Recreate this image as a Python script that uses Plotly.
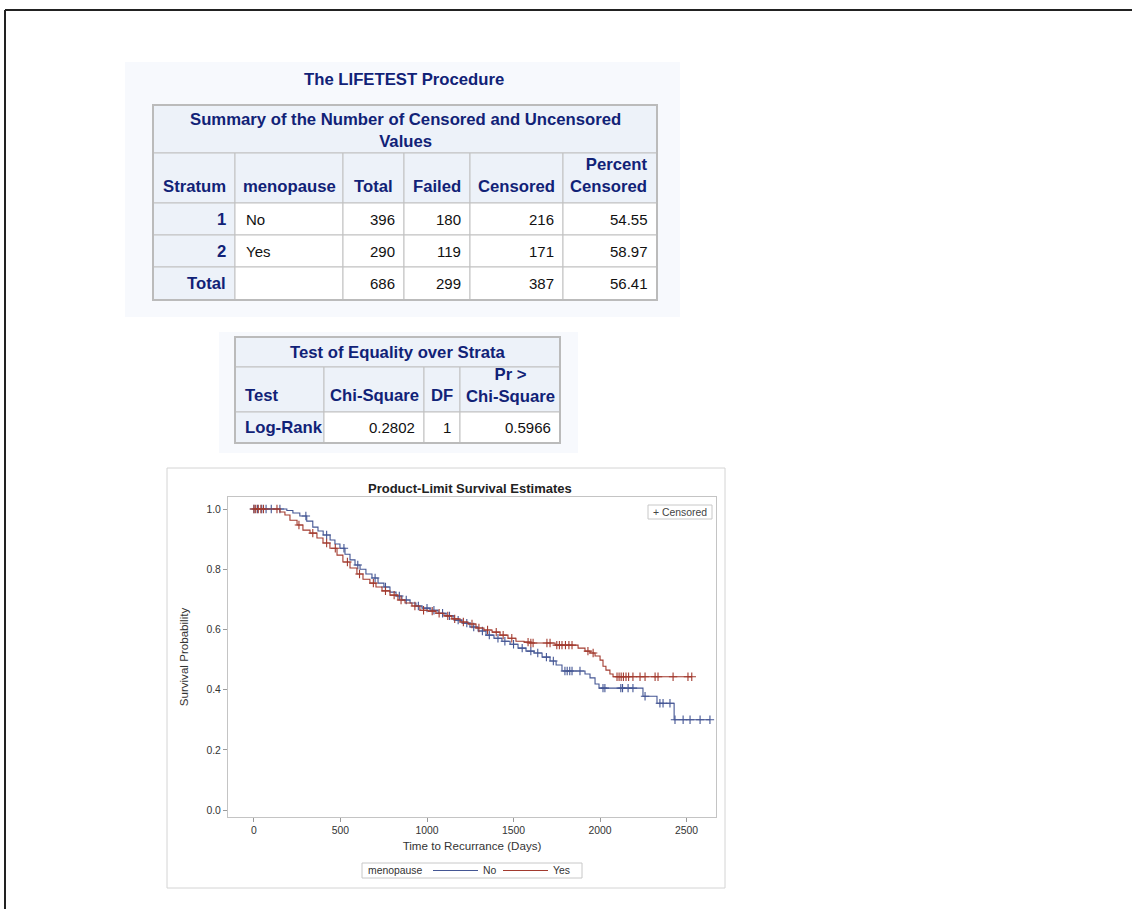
import plotly.graph_objects as go

W, H = 1132, 909
FONT = "Liberation Sans, Arial, Helvetica, sans-serif"

# ---------------- Summary of censored / uncensored values ----------------
summary_title = "Summary of the Number of Censored and Uncensored<br>Values"
summary_headers = ["Stratum", "menopause", "Total", "Failed", "Censored", "Percent<br>Censored"]
strata = ["1", "2", "Total"]
menopause = ["No", "Yes", ""]
n_total = [396, 290, 686]
n_failed = [180, 119, 299]
n_censored = [216, 171, 387]
pct_censored = [54.55, 58.97, 56.41]

# ---------------- Log-rank test ----------------
test_title = "Test of Equality over Strata"
test_headers = ["Test", "Chi-Square", "DF", "Pr ><br>Chi-Square"]
test_names = ["Log-Rank"]
chi_square = [0.2802]
deg_freedom = [1]
p_value = [0.5966]

# ---------------- Product-limit estimates (step knots) ----------------
groups = ["No", "Yes"]
no_time = [0, 190, 225, 265, 305, 340, 370, 400, 440, 468, 497, 526, 555, 584, 613, 647, 682,
           717, 751, 786, 821, 855, 902, 936, 971, 1017, 1064, 1110, 1156, 1202, 1248, 1295,
           1341, 1387, 1433, 1480, 1526, 1572, 1618, 1665, 1711, 1746, 1780, 1913, 1942, 1971,
           1994, 2248, 2329, 2428, 2635]
no_surv = [1.0, 0.995, 0.987, 0.977, 0.960, 0.940, 0.927, 0.914, 0.897, 0.884, 0.870, 0.850,
           0.831, 0.814, 0.800, 0.784, 0.771, 0.754, 0.741, 0.724, 0.711, 0.698, 0.688, 0.678,
           0.671, 0.664, 0.654, 0.645, 0.631, 0.621, 0.608, 0.595, 0.581, 0.571, 0.561, 0.551,
           0.538, 0.528, 0.522, 0.508, 0.495, 0.482, 0.462, 0.452, 0.439, 0.419, 0.405, 0.378,
           0.355, 0.300, 0.300]

yes_time = [0, 150, 179, 208, 249, 283, 324, 364, 399, 439, 480, 514, 555, 595, 630, 670, 705,
            740, 786, 832, 873, 913, 959, 1006, 1052, 1098, 1144, 1191, 1237, 1283, 1329, 1376,
            1422, 1468, 1514, 1561, 1595, 1740, 1873, 1913, 1942, 1971, 2000, 2017, 2034, 2057,
            2075, 2530]
yes_surv = [1.0, 0.990, 0.980, 0.963, 0.947, 0.930, 0.920, 0.904, 0.887, 0.870, 0.847, 0.824,
            0.804, 0.784, 0.767, 0.754, 0.741, 0.728, 0.714, 0.698, 0.688, 0.678, 0.664, 0.661,
            0.654, 0.645, 0.635, 0.625, 0.618, 0.605, 0.598, 0.591, 0.581, 0.571, 0.561, 0.558,
            0.555, 0.548, 0.538, 0.528, 0.522, 0.512, 0.498, 0.478, 0.465, 0.452, 0.443, 0.443]

# censored observations (time, estimate at that time)
no_cens_time = [0, 20, 45, 70, 100, 150, 300, 420, 520, 600, 700, 760, 840, 880, 950, 1000,
                1040, 1090, 1130, 1180, 1230, 1270, 1320, 1360, 1410, 1450, 1500, 1550, 1600,
                1640, 1690, 1730, 1797, 1810, 1825, 1838, 1884, 2017, 2028, 2120, 2130, 2162,
                2190, 2260, 2346, 2364, 2404, 2433, 2480, 2520, 2578, 2635]
no_cens_surv = [1.0, 1.0, 1.0, 1.0, 1.0, 1.0, 0.977, 0.914, 0.870, 0.814, 0.771, 0.741, 0.711,
                0.698, 0.678, 0.671, 0.664, 0.654, 0.645, 0.631, 0.621, 0.608, 0.595, 0.581,
                0.571, 0.561, 0.551, 0.538, 0.528, 0.522, 0.508, 0.495, 0.462, 0.462, 0.462,
                0.462, 0.462, 0.405, 0.405, 0.405, 0.405, 0.405, 0.405, 0.378, 0.355, 0.355,
                0.355, 0.300, 0.300, 0.300, 0.300, 0.300]

yes_cens_time = [0, 10, 25, 40, 55, 133, 260, 340, 420, 470, 540, 610, 690, 760, 810, 850, 930,
                 980, 1030, 1070, 1120, 1160, 1210, 1260, 1300, 1350, 1400, 1440, 1490, 1584,
                 1600, 1613, 1693, 1711, 1750, 1765, 1780, 1800, 1820, 1838, 1930, 1960, 2098,
                 2110, 2122, 2135, 2150, 2165, 2190, 2231, 2260, 2318, 2335, 2422, 2508, 2530]
yes_cens_surv = [1.0, 1.0, 1.0, 1.0, 1.0, 1.0, 0.947, 0.920, 0.887, 0.870, 0.824, 0.784, 0.754,
                 0.728, 0.714, 0.698, 0.678, 0.664, 0.661, 0.654, 0.645, 0.635, 0.625, 0.618,
                 0.605, 0.598, 0.591, 0.581, 0.571, 0.558, 0.555, 0.555, 0.555, 0.555, 0.548,
                 0.548, 0.548, 0.548, 0.548, 0.548, 0.528, 0.522, 0.443, 0.443, 0.443, 0.443,
                 0.443, 0.443, 0.443, 0.443, 0.443, 0.443, 0.443, 0.443, 0.443, 0.443]

x_ticks = [0, 500, 1000, 1500, 2000, 2500]
y_ticks = [0.0, 0.2, 0.4, 0.6, 0.8, 1.0]

# ---------------- styling ----------------
NAVY = "#112277"
HEAD_FILL = "#EDF2F9"
GRID = "#C1C1C1"
PANEL = "#F7F9FD"
BLUE = "#445694"
RED = "#A23A2E"
HEAD_SIZE = 16.7
DATA_SIZE = 15
GRAPH_TXT = "#333333"


def fx(px):
    return px / W


def fy(py):
    return 1 - py / H


shapes, annotations = [], []


def rect(x0, y0, x1, y1, fill=None, line_color=None, lw=1, layer="above"):
    shapes.append(dict(type="rect", xref="paper", yref="paper",
                       x0=fx(x0), x1=fx(x1), y0=fy(y1), y1=fy(y0),
                       fillcolor=fill or "rgba(0,0,0,0)",
                       line=dict(color=line_color or "rgba(0,0,0,0)", width=lw if line_color else 0),
                       layer=layer))


def seg(x0, y0, x1, y1, color, lw):
    shapes.append(dict(type="line", xref="paper", yref="paper",
                       x0=fx(x0), x1=fx(x1), y0=fy(y0), y1=fy(y1),
                       line=dict(color=color, width=lw)))


def text(s, x, y, size, color, bold=False, anchor="center"):
    annotations.append(dict(text=f"<b>{s}</b>" if bold else s, x=fx(x), y=fy(y),
                            xref="paper", yref="paper", xanchor=anchor, yanchor="middle",
                            align=anchor if anchor != "center" else "center",
                            showarrow=False, font=dict(family=FONT, size=size, color=color)))


def mid(a, b):
    return (a + b) / 2


def header_y(label, bottom):
    # column headings sit on the bottom edge of their cell
    n_lines = label.count("<br>") + 1
    return bottom - 17 - 10.5 * (n_lines - 1)


# page frame
seg(5, 10, 1140, 10, "#222222", 2)
seg(5, 10, 5, 920, "#222222", 2)

# ---------------- table 1 ----------------
cols1 = [153, 235, 343, 404, 470, 563, 657]
rows1 = [105, 153, 203, 235, 267, 300]
rect(125, 62, 680, 317, PANEL, layer="below")
text("The LIFETEST Procedure", 404, 80, HEAD_SIZE, NAVY, bold=True)

rect(cols1[0], rows1[0], cols1[-1], rows1[1], HEAD_FILL, GRID)
text(summary_title, mid(cols1[0], cols1[-1]), mid(rows1[0], rows1[1]) + 1, HEAD_SIZE, NAVY, bold=True)

for i, hdr in enumerate(summary_headers):
    rect(cols1[i], rows1[1], cols1[i + 1], rows1[2], HEAD_FILL, GRID)
    yy = header_y(hdr, rows1[2])
    if i == len(summary_headers) - 1:
        text(hdr, cols1[i + 1] - 8, yy, HEAD_SIZE, NAVY, bold=True, anchor="right")
    else:
        text(hdr, mid(cols1[i], cols1[i + 1]), yy, HEAD_SIZE, NAVY, bold=True)

body1 = [strata, menopause, [str(v) for v in n_total], [str(v) for v in n_failed],
         [str(v) for v in n_censored], [f"{v:.2f}" for v in pct_censored]]
for r in range(len(strata)):
    y0, y1 = rows1[r + 2], rows1[r + 3]
    for i, colvals in enumerate(body1):
        rect(cols1[i], y0, cols1[i + 1], y1, HEAD_FILL if i == 0 else "white", GRID)
        val = colvals[r]
        if not val:
            continue
        if i == 0:
            text(val, cols1[1] - 7, mid(y0, y1), HEAD_SIZE, NAVY, bold=True, anchor="right")
        elif i == 1:
            text(val, cols1[1] + 9, mid(y0, y1), DATA_SIZE, "#111111", anchor="left")
        else:
            text(val, cols1[i + 1] - 7, mid(y0, y1), DATA_SIZE, "#111111", anchor="right")
rect(cols1[0], rows1[0], cols1[-1], rows1[-1], None, "#BBBBBB", 2)

# ---------------- table 2 ----------------
cols2 = [235, 324, 424, 460, 560]
rows2 = [337, 367, 412, 443]
rect(219, 332, 578, 453, PANEL, layer="below")
rect(cols2[0], rows2[0], cols2[-1], rows2[1], HEAD_FILL, GRID)
text(test_title, mid(cols2[0], cols2[-1]), mid(rows2[0], rows2[1]), HEAD_SIZE, NAVY, bold=True)
for i, hdr in enumerate(test_headers):
    rect(cols2[i], rows2[1], cols2[i + 1], rows2[2], HEAD_FILL, GRID)
    yy = header_y(hdr, rows2[2] + 1)
    if i == 0:
        text(hdr, cols2[0] + 8, yy, HEAD_SIZE, NAVY, bold=True, anchor="left")
    else:
        text(hdr, mid(cols2[i], cols2[i + 1]), yy, HEAD_SIZE, NAVY, bold=True)

body2 = [test_names, [f"{v:.4f}" for v in chi_square], [str(v) for v in deg_freedom],
         [f"{v:.4f}" for v in p_value]]
for r in range(len(test_names)):
    y0, y1 = rows2[r + 2], rows2[r + 3]
    for i, colvals in enumerate(body2):
        rect(cols2[i], y0, cols2[i + 1], y1, HEAD_FILL if i == 0 else "white", GRID)
        if i == 0:
            text(colvals[r], cols2[0] + 8, mid(y0, y1), HEAD_SIZE, NAVY, bold=True, anchor="left")
        else:
            text(colvals[r], cols2[i + 1] - 7, mid(y0, y1), DATA_SIZE, "#111111", anchor="right")
rect(cols2[0], rows2[0], cols2[-1], rows2[-1], None, "#BBBBBB", 2)

# ---------------- survival plot ----------------
rect(167, 468, 725, 888, "white", "#D4D4D4", 1, layer="below")
text("Product-Limit Survival Estimates", 470, 488, 13, "#222222", bold=True)

# in-plot key for censor marks
rect(648, 505, 712, 519, "white", "#C8C8C8", 1)
text("+ Censored", 651, 512, 10.4, "#444444", anchor="left")

# group key below the plot
rect(362, 863, 582, 878, "white", "#C8C8C8", 1)
text("menopause", 366, 870.5, 10.4, GRAPH_TXT, anchor="left")
seg(433, 870.5, 478, 870.5, BLUE, 1.2)
text(groups[0], 481, 870.5, 10.4, GRAPH_TXT, anchor="left")
seg(503, 870.5, 548, 870.5, RED, 1.2)
text(groups[1], 551, 870.5, 10.4, GRAPH_TXT, anchor="left")

fig = go.Figure()
fig.add_trace(go.Scatter(x=no_time, y=no_surv, mode="lines", name=groups[0], showlegend=False,
                         line=dict(color=BLUE, width=1.1, shape="hv")))
fig.add_trace(go.Scatter(x=no_cens_time, y=no_cens_surv, mode="markers", showlegend=False,
                         marker=dict(symbol="cross-thin", size=6, line=dict(color=BLUE, width=1.1))))
fig.add_trace(go.Scatter(x=yes_time, y=yes_surv, mode="lines", name=groups[1], showlegend=False,
                         line=dict(color=RED, width=1.1, shape="hv")))
fig.add_trace(go.Scatter(x=yes_cens_time, y=yes_cens_surv, mode="markers", showlegend=False,
                         marker=dict(symbol="cross-thin", size=6, line=dict(color=RED, width=1.1))))

axis_common = dict(showgrid=False, zeroline=False, showline=True, mirror=True,
                   linecolor="#C4C4C4", linewidth=1, ticks="outside", ticklen=4,
                   tickcolor="#9A9A9A", tickfont=dict(family=FONT, size=10.4, color=GRAPH_TXT))

fig.update_layout(
    width=W, height=H, autosize=False,
    margin=dict(l=0, r=0, t=0, b=0),
    paper_bgcolor="white", plot_bgcolor="white",
    font=dict(family=FONT, color=GRAPH_TXT),
    xaxis=dict(domain=[fx(228), fx(716)], range=[-150, 2670], tickvals=x_ticks,
               title=dict(text="Time to Recurrance (Days)", standoff=6,
                          font=dict(family=FONT, size=11.6, color=GRAPH_TXT)),
               **axis_common),
    yaxis=dict(domain=[fy(817), fy(497)], range=[-0.023, 1.04], tickvals=y_ticks,
               tickformat=".1f",
               title=dict(text="Survival Probability", standoff=15,
                          font=dict(family=FONT, size=11.6, color=GRAPH_TXT)),
               **axis_common),
    showlegend=False,
    shapes=shapes,
    annotations=annotations,
)

fig.write_html("out.html")
